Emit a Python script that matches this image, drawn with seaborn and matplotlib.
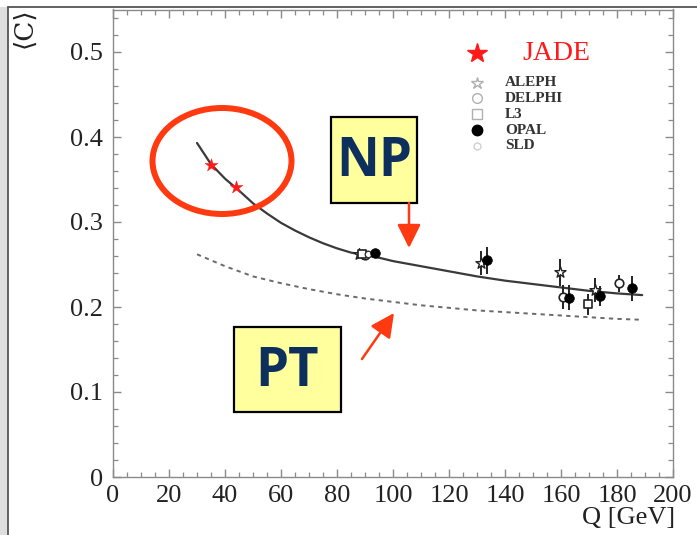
import numpy as np
import pandas as pd
import seaborn as sns
import matplotlib
matplotlib.use("Agg")
import matplotlib.pyplot as plt
from matplotlib import patches
from matplotlib.lines import Line2D
from matplotlib.ticker import MultipleLocator

# ---- curves: mean C-parameter vs. centre-of-mass energy ----
np_q = [30, 35, 40, 45, 50, 55, 60, 65, 70, 75, 80, 85, 90, 95, 100,
        110, 120, 130, 140, 150, 160, 170, 180, 189]
np_c = [0.393, 0.368, 0.351, 0.337, 0.322, 0.310, 0.299, 0.290, 0.282,
        0.275, 0.269, 0.264, 0.261, 0.258, 0.254, 0.248, 0.242, 0.236,
        0.231, 0.227, 0.223, 0.219, 0.216, 0.214]

pt_q = [30, 40, 50, 60, 70, 80, 90, 100, 110, 120, 130, 140, 150, 160,
        170, 180, 189]
pt_c = [0.262, 0.248, 0.236, 0.228, 0.221, 0.215, 0.210, 0.206, 0.202,
        0.199, 0.196, 0.194, 0.192, 0.190, 0.188, 0.186, 0.185]

# ---- measurements ----
jade_q = [35.0, 44.0]
jade_c = [0.367, 0.341]

aleph_q = [88.0, 131.5, 159.5, 172.0]
aleph_c = [0.262, 0.252, 0.241, 0.220]
aleph_e = [0.003, 0.014, 0.016, 0.014]

delphi_q = [90.0, 160.8, 180.7]
delphi_c = [0.261, 0.212, 0.228]
delphi_e = [0.003, 0.014, 0.010]

l3_q = [89.0, 169.6]
l3_c = [0.262, 0.203]
l3_e = [0.003, 0.012]

opal_q = [93.5, 133.5, 163.0, 174.0, 185.4]
opal_c = [0.263, 0.255, 0.211, 0.213, 0.222]
opal_e = [0.003, 0.016, 0.015, 0.012, 0.015]

sld_q = [91.2]
sld_c = [0.262]
sld_e = [0.004]

x_ticks = [0, 20, 40, 60, 80, 100, 120, 140, 160, 180, 200]
y_ticks = [0, 0.1, 0.2, 0.3, 0.4, 0.5]
y_tick_labels = ["0", "0.1", "0.2", "0.3", "0.4", "0.5"]

sns.set_theme(style="ticks")
plt.rcParams["font.family"] = ["Liberation Serif", "DejaVu Serif"]

W, H = 697, 535
fig = plt.figure(figsize=(W / 100, H / 100), dpi=100)
fig.patch.set_facecolor("white")


def fx(px):
    return px / W


def fy(py):
    return 1 - py / H


# slide-style frame
fig.add_artist(patches.Rectangle((0, 0), fx(8), fy(7), transform=fig.transFigure,
                                 facecolor="#dedede", edgecolor="none", zorder=0))
fig.add_artist(Line2D([fx(8), 1], [fy(7), fy(7)], transform=fig.transFigure,
                      color="#555555", lw=1.3))
fig.add_artist(Line2D([fx(8), fx(8)], [0, fy(7)], transform=fig.transFigure,
                      color="#555555", lw=1.3))

ax = fig.add_axes([fx(113), fy(477), (673 - 113) / W, (477 - 9.5) / H])
ax.set_facecolor("white")

curves_np = pd.DataFrame({"Q": np_q, "C": np_c})
curves_pt = pd.DataFrame({"Q": pt_q, "C": pt_c})
sns.lineplot(data=curves_np, x="Q", y="C", ax=ax, color="#3a3a3a", lw=1.6,
             zorder=3)
sns.lineplot(data=curves_pt, x="Q", y="C", ax=ax, color="#6a6a6a", lw=1.4,
             zorder=3, dashes=False)
ax.lines[-1].set_dashes([2.2, 2.2])

ebar_kw = dict(fmt="none", ecolor="#222222", elinewidth=1.4, capsize=0, zorder=4)
for q, c, e in [(aleph_q, aleph_c, aleph_e), (delphi_q, delphi_c, delphi_e),
                (l3_q, l3_c, l3_e), (opal_q, opal_c, opal_e),
                (sld_q, sld_c, sld_e)]:
    ax.errorbar(q, c, yerr=e, **ebar_kw)

sns.scatterplot(x=aleph_q, y=aleph_c, ax=ax, marker="*", s=70,
                facecolor="white", edgecolor="#222222", linewidth=1.0, zorder=5)
sns.scatterplot(x=delphi_q, y=delphi_c, ax=ax, marker="o", s=38,
                facecolor="white", edgecolor="#222222", linewidth=1.2, zorder=5)
sns.scatterplot(x=l3_q, y=l3_c, ax=ax, marker="s", s=34,
                facecolor="white", edgecolor="#222222", linewidth=1.2, zorder=5)
sns.scatterplot(x=sld_q, y=sld_c, ax=ax, marker="o", s=22,
                facecolor="white", edgecolor="#333333", linewidth=1.0, zorder=5)
sns.scatterplot(x=opal_q, y=opal_c, ax=ax, marker="o", s=48,
                color="black", edgecolor="black", linewidth=0.5, zorder=6)
sns.scatterplot(x=jade_q, y=jade_c, ax=ax, marker="*", s=95,
                color="#ff1a1a", edgecolor="#ff1a1a", linewidth=0.3, zorder=6)

ax.set_xlim(0, 200)
ax.set_ylim(0, 0.55)
ax.set_xticks(x_ticks)
ax.set_xticklabels([str(t) for t in x_ticks])
ax.set_yticks(y_ticks)
ax.set_yticklabels(y_tick_labels)
ax.xaxis.set_minor_locator(MultipleLocator(5))
ax.yaxis.set_minor_locator(MultipleLocator(0.02))
ax.tick_params(which="both", direction="in", top=True, right=True,
               colors="#8a8a8a", labelcolor="#222222", labelsize=19)
ax.tick_params(which="major", length=6, width=1.0)
ax.tick_params(which="minor", length=3.5, width=0.9)
ax.tick_params(axis="y", pad=7)
ax.tick_params(axis="x", pad=6)
for s in ax.spines.values():
    s.set_color("#8a8a8a")
    s.set_linewidth(1.0)
ax.set_xlabel("")
ax.set_ylabel("")

# axis titles
fig.text(fx(675), fy(518), "Q [GeV]", ha="right", va="center", fontsize=19,
         color="#222222")
fig.text(fx(24), fy(28), "⟨C⟩", ha="center", va="center", rotation=90,
         fontsize=19, color="#222222",
         family=["DejaVu Serif", "Liberation Serif"])

# legend
fig.add_artist(Line2D([fx(477)], [fy(53)], transform=fig.transFigure,
                      marker="*", ms=15, color="#ff1a1a", ls="none"))
fig.text(fx(522), fy(54), "JADE", ha="left", va="center", fontsize=20,
         color="#ff1a1a")
legend_rows = [
    ("ALEPH", "*", 9, "white", "#b0b0b0", 83),
    ("DELPHI", "o", 7, "white", "#b0b0b0", 98),
    ("L3", "s", 7, "white", "#b0b0b0", 114),
    ("OPAL", "o", 7.5, "black", "black", 130),
    ("SLD", "o", 5, "white", "#d0d0d0", 146),
]
for name, mk, ms, fc, ec, py in legend_rows:
    fig.add_artist(Line2D([fx(477)], [fy(py)], transform=fig.transFigure,
                          marker=mk, ms=ms, markerfacecolor=fc,
                          markeredgecolor=ec, ls="none"))
    fig.text(fx(505), fy(py), name, ha="left", va="center", fontsize=11,
             color="#333333", fontweight="bold")

# highlight around the low-energy points
fig.add_artist(patches.Ellipse((fx(222), fy(161)), 139 / W, 106 / H,
                               transform=fig.transFigure, fill=False,
                               edgecolor="#ff3a10", lw=4.3, zorder=10))

# labelled boxes
box_text = dict(ha="center", va="center", fontsize=38, fontweight="bold",
                color="#0c2f5e", family=["Open Sans", "DejaVu Sans"], zorder=12)
for (l, t, r, b), label in [((331, 117, 417, 203), "NP"),
                            ((234, 327, 341, 412), "PT")]:
    fig.add_artist(patches.Rectangle((fx(l), fy(b)), (r - l) / W, (b - t) / H,
                                     transform=fig.transFigure,
                                     facecolor="#ffff9e", edgecolor="black",
                                     lw=1.6, zorder=11))
    fig.text(fx((l + r) / 2), fy((t + b) / 2 + 2), label, **box_text)

arrow_style = "-|>,head_length=1.45,head_width=0.72"
for (x0, y0), (x1, y1) in [((409, 203), (409, 248)),
                           ((362, 359), (394, 313))]:
    fig.add_artist(patches.FancyArrowPatch(
        (fx(x0), fy(y0)), (fx(x1), fy(y1)), transform=fig.transFigure,
        arrowstyle=arrow_style, mutation_scale=10, color="#ff3a10",
        lw=1.8, shrinkA=0, shrinkB=0, zorder=12))

fig.savefig("out.png", dpi=100)
